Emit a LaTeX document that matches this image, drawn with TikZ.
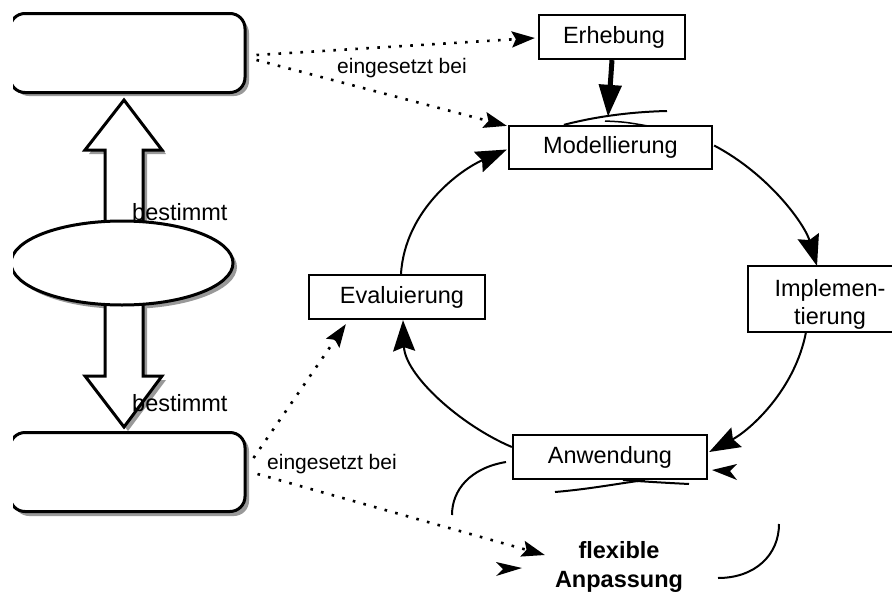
\documentclass[tikz,border=0pt]{standalone}
\usepackage{fontspec}
\setmainfont{Liberation Sans}
\usetikzlibrary{arrows.meta,calc,shapes.geometric}
\begin{document}
\begin{tikzpicture}[x=1pt,y=-1pt,
  box/.style={draw,line width=2.3pt,fill=white,inner sep=0pt,font=\fontsize{23.5}{28}\selectfont,align=center},
  rbox/.style={draw,line width=3pt,fill=white,rounded corners=15pt,inner sep=0pt,minimum width=235pt,minimum height=79pt},
  shad/.style={fill=black!40},
  blk/.style={draw,line width=3pt,fill=white,line join=miter},
  lbl/.style={inner sep=0pt,font=\fontsize{23.5}{28}\selectfont},
  slbl/.style={inner sep=0pt,font=\fontsize{21}{25}\selectfont},
  cyc/.style={line width=2pt,-{Stealth[length=31pt,width=22pt,inset=4pt]}},
  deco/.style={line width=2pt},
  dotarr/.style={line width=2.6pt,dash pattern=on 2.6pt off 8.4pt,-{Stealth[length=23pt,width=16pt,inset=4pt]}}
]
\useasboundingbox (0,0) rectangle (892,592);
\begin{scope}
\clip (13,0) rectangle (892,592);
% shadows
\fill[shad,rounded corners=15pt] (14,18) rectangle (249,96);
\fill[shad,rounded corners=15pt] (14,436) rectangle (249,516);
\fill[shad] (126,267) ellipse [x radius=111pt, y radius=42pt];
% block arrows (shadows then arrows)
\fill[shad] (128,104) -- (166,154) -- (147,154) -- (147,240) -- (109,240) -- (109,154) -- (89,154) -- cycle;
\draw[blk] (124,100) -- (162,150) -- (143,150) -- (143,240) -- (105,240) -- (105,150) -- (85,150) -- cycle;
\fill[shad] (109,294) -- (147,294) -- (147,380) -- (166,380) -- (128,431) -- (89,380) -- (109,380) -- cycle;
\draw[blk] (105,290) -- (143,290) -- (143,376) -- (162,376) -- (124,427) -- (85,376) -- (105,376) -- cycle;
% left shapes
\node[ellipse,draw,line width=3pt,fill=white,inner sep=0pt,minimum width=222pt,minimum height=84pt] (ell) at (122,263) {};
\node[rbox] (top) at (127.5,53) {};
\node[rbox] (bot) at (127.5,472) {};
\node[lbl,anchor=west] (b1) at (132,212) {bestimmt};
\node[lbl,anchor=west] (b2) at (132,403) {bestimmt};
% cycle nodes
\node[box,minimum width=146pt,minimum height=44pt] (erh) at (612,37) {\hspace*{4pt}Erhebung};
\node[box,minimum width=203pt,minimum height=43pt] (mod) at (610.5,147.5) {Modellierung};
\node[inner sep=0pt,align=center,font=\fontsize{23.5}{28}\selectfont] (impl) at (830,304) {Implemen-\\tierung};
\draw[line width=2.3pt] (920,266) -- (748,266) -- (748,332) -- (920,332);
\node[box,minimum width=176pt,minimum height=44pt] (eva) at (397,297) {\hspace*{10pt}Evaluierung};
\node[box,minimum width=194pt,minimum height=44pt] (anw) at (610,457) {Anwendung};
\node[inner sep=0pt,align=center,font=\fontsize{23.5}{29}\bfseries\selectfont] (flex) at (619,567) {flexible\\Anpassung};
% cycle connectors
\draw[cyc] ($(mod.east)+(1,-2)$) .. controls (770,175) and (805,225) .. (817,266);
\draw[cyc] (806,332) .. controls (795,390) and (750,430) .. ($(anw.east)+(1,-5)$);
\draw[cyc] ($(anw.west)+(0,-10)$) .. controls (460,425) and (405,375) .. ($(eva.south)+(6,0)$);
\draw[cyc] ($(eva.north)+(4,0)$) .. controls (405,210) and (460,170) .. ($(mod.west)+(-1,2)$);
% Erhebung -> Modellierung
\draw[line width=5pt,-{Triangle[length=32pt,width=22pt]}] (erh.south) -- ($(mod.north)+(-2.5,-8)$);
\draw[deco] ($(mod.north west)+(56,0)$) .. controls (590,118) and (625,112) .. (667,111);
\draw[line width=1.5pt] (605,121) .. controls (625,122) .. (648,126);
% loop remnants near Anwendung
\draw[deco] (555,492) .. controls (590,489) and (615,484) .. (645,480);
\draw[deco] (623,480) .. controls (650,482) and (670,483) .. (689,484);
\draw[deco] (506,462) .. controls (470,468) and (452,490) .. (452,515);
\draw[deco] (779,524) .. controls (779,555) and (755,578) .. (718,578);
\fill (712,470) -- (737,464) -- (730,471) -- (737,480) -- cycle;
\fill (522,568) -- (496,562) -- (503,569) -- (496,576) -- cycle;
% dotted connectors
\draw[dotarr] ($(top.east)+(10,2)$) -- ($(erh.west)+(-3,1)$);
\draw[dotarr] ($(top.east)+(10,7)$) -- ($(mod.north west)+(-1,1)$);
\draw[dotarr] ($(bot.east)+(7,-14)$) -- ($(eva.south west)+(38,4)$);
\draw[dotarr] ($(bot.east)+(11,2)$) -- ($(flex.west)+(-10,-12)$);
\node[slbl] (e1) at (402,68) {eingesetzt bei};
\node[slbl,anchor=west] (e2) at (267,464) {eingesetzt bei};
\end{scope}
\end{tikzpicture}
\end{document}
